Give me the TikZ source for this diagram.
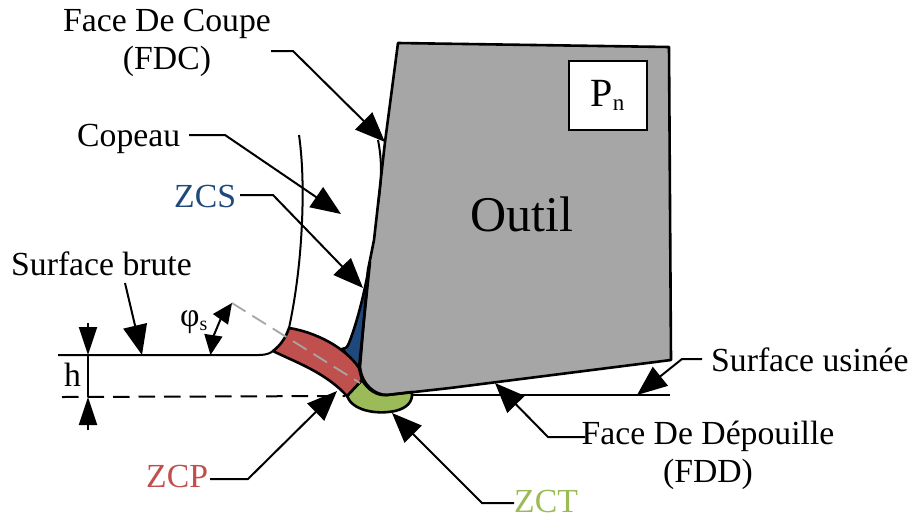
\documentclass[tikz,border=0pt]{standalone}
\usepackage{fontspec}
\setmainfont{Liberation Serif}
\usetikzlibrary{arrows.meta}
\definecolor{toolgray}{HTML}{A6A6A6}
\definecolor{zcsblue}{HTML}{1F497D}
\definecolor{zcpred}{HTML}{C0504D}
\definecolor{zctgreen}{HTML}{9BBB59}
\tikzset{
  x=1pt,y=-1pt,
  lab/.style={font=\fontsize{33.7}{38}\selectfont,align=center,inner sep=0pt},
  baselab/.style={lab,anchor=base west},
  lead/.style={line width=2pt,-{Triangle[length=30pt,width=24pt]}},
  dimtip/.style={line width=2pt,-{Triangle[length=28pt,width=18pt]}},
  zone/.style={draw=black,line width=2.6pt,line join=round},
  plainline/.style={line width=2pt}
}
\begin{document}
\begin{tikzpicture}
\useasboundingbox (0,0) rectangle (912,515);
% tool
\fill[toolgray] (398,43) -- (669,47) -- (671,360) -- (450,388) -- (387,395)
  .. controls (375,395) and (362,385) .. (360,367) -- (368,270) -- (374,240) -- (385,142) -- cycle;
% zones
\draw[zone,fill=zcsblue] (370,262) .. controls (365,290) and (358,320) .. (349,343)
  .. controls (347,348) and (345,349) .. (342,349) -- (359,368) -- cycle;
\draw[zone,fill=zctgreen] (362,380) .. controls (368,390) and (377,396) .. (387,395) -- (412,392)
  .. controls (413,402) and (407,408) .. (395,411) .. controls (375,415) and (352,410) .. (347,396) -- cycle;
\draw[zone,fill=zcpred] (289,328) .. controls (315,332) and (345,347) .. (359,368) -- (362,380) -- (347,396)
  .. controls (325,372) and (295,362) .. (273,351) .. controls (281,345) and (286,337) .. (289,328) -- cycle;
% tool outline
\draw[zone] (398,43) -- (669,47) -- (671,360) -- (450,388) -- (387,395)
  .. controls (375,395) and (362,385) .. (360,367) -- (368,270) -- (374,240) -- (385,142) -- cycle;
% lines
\draw[plainline] (58,355) -- (245,355) .. controls (258,355) and (267,356) .. (273,351);
\draw[plainline] (299,135) .. controls (304,170) and (303,210) .. (301,240) .. controls (299,270) and (295,300) .. (289,328);
\draw[plainline] (378,140) .. controls (382,160) and (382,180) .. (378,205);
\draw[plainline] (412,395) -- (670,395);
\draw[line width=2pt,dash pattern=on 16.5pt off 9pt] (62,397) -- (345,396);
\draw[line width=1.8pt,toolgray,dash pattern=on 16pt off 8pt] (232,303) -- (360,383);
% Pn box
\node[draw=black,line width=2pt,fill=white,minimum width=78pt,minimum height=69pt,inner sep=0pt] (pn) at (607.5,95.5)
  {\fontsize{40}{44}\selectfont P\raisebox{-4pt}{\fontsize{23}{25}\selectfont n}};
\node[font=\fontsize{50}{54}\selectfont,inner sep=0pt,anchor=base] (outil) at (522,231) {Outil};
% labels
\node[lab] (fdc) at (167,43) {Face De Coupe\\(FDC)};
\node[baselab] (cop) at (77,146) {Copeau};
\node[baselab,text=zcsblue] (zcs) at (174,207) {ZCS};
\node[baselab] (sb) at (11,275) {Surface brute};
\node[baselab] (su) at (711,371) {Surface usinée};
\node[lab] (fdd) at (708,455) {Face De Dépouille\\(FDD)};
\node[baselab,text=zcpred] (zcp) at (146,487) {ZCP};
\node[baselab,text=zctgreen] (zct) at (514,512) {ZCT};
\node[baselab] (h) at (64,386) {h};
\node[baselab] (phi) at (180,326) {φ\raisebox{-4pt}{\fontsize{20}{22}\selectfont s}};
% free ends
\coordinate (a1) at (385,142);
\coordinate (a2) at (341,214);
\coordinate (a3) at (363,288);
\coordinate (a4) at (142,355);
\coordinate (a5) at (637,395);
\coordinate (a6) at (495,383);
\coordinate (a7) at (337,391);
\coordinate (a8) at (392,413);
\coordinate (h1) at (88,323);
\coordinate (h2) at (88,355);
\coordinate (h3) at (88,397);
\coordinate (h4) at (88,430);
\coordinate (p1) at (210.5,355);
\coordinate (p2) at (232,303);
% leaders
\draw[lead] (271,51) -- (293,51) -- (a1);
\draw[lead] (189,135) -- (225,135) -- (a2);
\draw[lead] (240,195) -- (273,195) -- (a3);
\draw[lead] (125,283) -- (a4);
\draw[lead] (702,359) -- (682,359) -- (a5);
\draw[lead] (585,437) -- (548,437) -- (a6);
\draw[lead] (210,479) -- (248,479) -- (a7);
\draw[lead] (514,503) -- (482,503) -- (a8);
% dimension h
\draw[dimtip] (h1) -- (h2);
\draw[dimtip] (h4) -- (h3);
\draw[plainline] (h2) -- (h3);
% angle
\draw[line width=2pt,{Triangle[length=20pt,width=18pt]}-{Triangle[length=20pt,width=18pt]}] (p1) .. controls (213,338) and (220,320) .. (p2);
\end{tikzpicture}
\end{document}
